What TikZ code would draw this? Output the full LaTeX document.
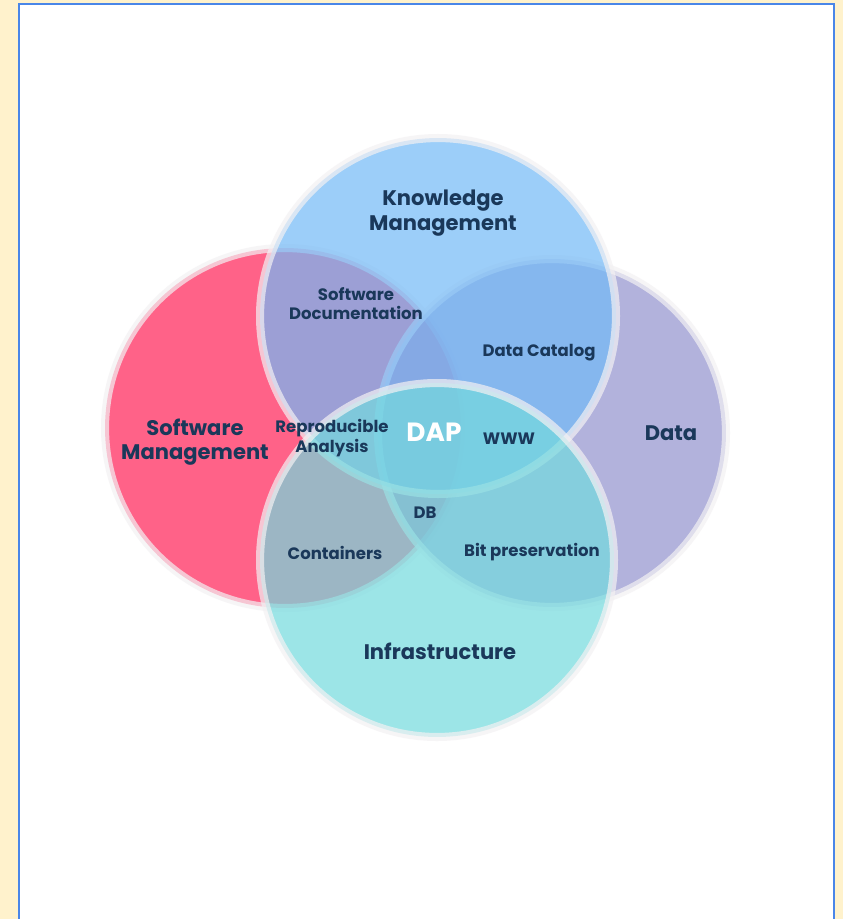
\documentclass[tikz,border=0pt]{standalone}
\usepackage{fontspec}
\setmainfont{Poppins}
\usepackage{tikz}

\definecolor{cream}{RGB}{255,242,204}
\definecolor{frameblue}{RGB}{74,134,232}
\definecolor{ringgrey}{RGB}{243,241,243}
\definecolor{navy}{RGB}{26,56,90}
\definecolor{swpink}{RGB}{255,32,86}
\definecolor{datalilac}{RGB}{146,146,206}
\definecolor{kmblue}{RGB}{115,186,247}
\definecolor{infracyan}{RGB}{115,218,222}

\tikzset{
  venn/.style={circle, inner sep=0pt, fill opacity=0.7, draw=ringgrey, draw opacity=0.7, line width=4.6pt},
  biglbl/.style={text=navy, font=\fontsize{12}{14}\selectfont\bfseries, align=center},
  lbl/.style={text=navy, font=\fontsize{9.4}{10.9}\selectfont\bfseries, align=center},
}

\begin{document}
\begin{tikzpicture}[x=0.02cm, y=-0.02cm]
\useasboundingbox (0,0) rectangle (843,919);
\fill[cream] (0,0) rectangle (843,919);
\draw[fill=white, draw=frameblue, line width=1.4pt] (19,4) rectangle (834,960);

% the four areas
\node[venn, fill=swpink, minimum size=7.2cm] (sw) at (285,428) {};
\node[venn, fill=datalilac, minimum size=6.96cm] (data) at (552,433) {};
\node[venn, fill=kmblue, minimum size=7.12cm] (km) at (438,316) {};
\node[venn, fill=infracyan, minimum size=7.08cm] (infra) at (437,560) {};

% area names
\node[biglbl] (kmlbl) at (443,213) {Knowledge\\Management};
\node[biglbl] (swlbl) at (195,442) {Software\\Management};
\node[biglbl] (datalbl) at (671,433) {Data};
\node[biglbl] (infralbl) at (440,651) {Infrastructure};

% overlaps
\node[lbl] (swdoc) at (356,304) {Software\\Documentation};
\node[lbl] (catalog) at (539,353) {Data Catalog};
\node[lbl] (repro) at (332,438) {Reproducible\\Analysis};
\node[text=white, font=\fontsize{15}{17}\selectfont\bfseries] (dap) at (434,432) {DAP};
\node[lbl] (www) at (509,439) {WWW};
\node[lbl] (db) at (425,513) {DB};
\node[lbl] (containers) at (335,553) {Containers};
\node[lbl] (bitpres) at (532,552) {Bit preservation};
\end{tikzpicture}
\end{document}
